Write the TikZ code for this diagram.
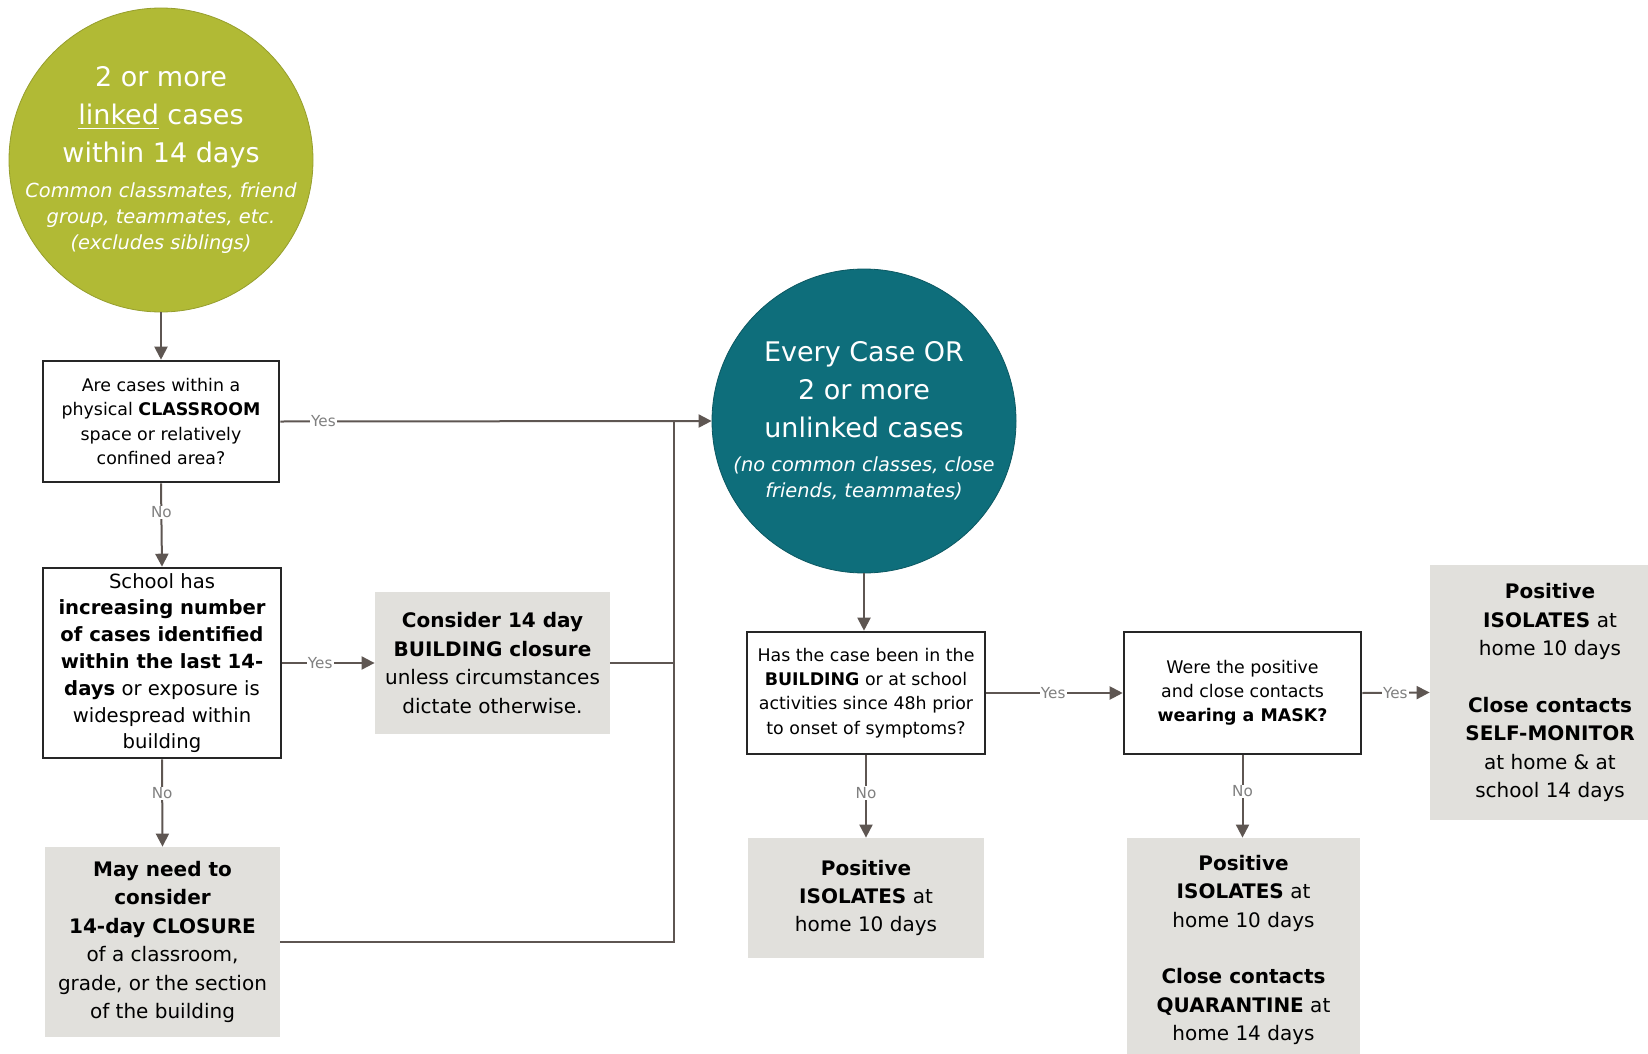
\documentclass[tikz,border=0pt]{standalone}
\usepackage{fontspec}
\setmainfont{DejaVu Sans}
\usepackage{tikz}
\usetikzlibrary{arrows.meta,positioning,calc}
\definecolor{linkedgreen}{HTML}{B1BA35}
\definecolor{unlinkedteal}{HTML}{0E6E7B}
\definecolor{actiongray}{HTML}{E1E0DC}
\definecolor{flowline}{HTML}{5E5652}
\newcommand{\casenote}{\itshape\fontsize{9.7}{13}\selectfont}
\tikzset{% 
  case circle/.style={%
    circle,
    text=white,
    align=center,
    inner sep=-12pt,
    minimum size=152pt,
    line width=0.4pt,
    font=\fontsize{13.5}{19}\selectfont
  }
}
\tikzset{% 
  question box/.style={%
    draw=black!85,
    line width=1.3pt,
    fill=white,
    align=center,
    inner sep=1pt,
    font=\fontsize{8.7}{12.1}\selectfont
  }
}
\tikzset{% 
  action box/.style={%
    fill=actiongray,
    align=center,
    inner sep=1pt,
    font=\fontsize{10}{14.2}\selectfont
  }
}
\tikzset{% 
  flow arrow/.style={%
    draw=flowline,
    line width=1pt,
    -{Triangle[length=6.5pt,width=6.5pt]}
  }
}
\tikzset{% 
  flow line/.style={%
    draw=flowline,
    line width=1pt
  }
}
\tikzset{% 
  flow label/.style={%
    fill=white,
    text=black!50,
    inner sep=0.6pt,
    font=\fontsize{7.6}{8}\selectfont
  }
}

\begin{document}
\begin{tikzpicture}[x=0.5pt,y=-0.5pt]
  \useasboundingbox (0,0) rectangle (1648,1054);
  \node [case circle, fill=linkedgreen, draw=linkedgreen!85!black] (linked) at (161,160)
    {2 or more\\ \underline{linked} cases\\ within 14 days\\[-1.8pt]
     \casenote Common classmates, friend\\[-6pt] \casenote group, teammates, etc.\\[-6pt] \casenote (excludes siblings)};
  \node [case circle, fill=unlinkedteal, draw=unlinkedteal!80!black] (unlinked) at (864,421)
    {Every Case OR\\ 2 or more\\ unlinked cases\\[-2.2pt]
     \casenote (no common classes, close\\[-6pt] \casenote friends, teammates)};
  \node [question box, minimum width=118pt, minimum height=60.5pt] (classroom) at (161,421.5)
    {Are cases within a\\ physical \textbf{CLASSROOM}\\ space or relatively\\ confined area?};
  \node [question box, minimum width=119pt, minimum height=95pt, font=\fontsize{9.8}{13.4}\selectfont] (increasing) at (162,663)
    {School has\\ \textbf{increasing number}\\ \textbf{of cases identified}\\ \textbf{within the last 14-}\\ \textbf{days} or exposure is\\ widespread within\\ building};
  \node [action box, minimum width=117.5pt, minimum height=71pt] (consider) at (492.5,663)
    {\textbf{Consider 14 day}\\ \textbf{BUILDING closure}\\ unless circumstances\\ dictate otherwise.};
  \node [action box, minimum width=117.5pt, minimum height=95pt] (mayneed) at (162.5,942)
    {\textbf{May need to}\\ \textbf{consider}\\ \textbf{14-day CLOSURE}\\ of a classroom,\\ grade, or the section\\ of the building};
  \node [question box, minimum width=119pt, minimum height=61pt] (building) at (866,693)
    {Has the case been in the\\ \textbf{BUILDING} or at school\\ activities since 48h prior\\ to onset of symptoms?};
  \node [question box, minimum width=118.5pt, minimum height=61pt] (mask) at (1242.5,693)
    {Were the positive\\ and close contacts\\ \textbf{wearing a MASK?}};
  \node [action box, minimum width=118pt, minimum height=60pt] (isolates) at (866,898)
    {\textbf{Positive}\\ \textbf{ISOLATES} at\\ home 10 days};
  \node [action box, minimum width=116.5pt, minimum height=112pt] (quarantine) at (1243.5,950)
    {\textbf{Positive}\\ \textbf{ISOLATES} at\\ home 10 days\\[14.2pt] \textbf{Close contacts}\\ \textbf{QUARANTINE} at\\ home 14 days};
  \node [action box, minimum width=120pt, minimum height=127.5pt] (selfmonitor) at (1550,692.5)
    {\textbf{Positive}\\ \textbf{ISOLATES} at\\ home 10 days\\[14.2pt] \textbf{Close contacts}\\ \textbf{SELF-MONITOR}\\ at home \& at\\ school 14 days};
  \coordinate (merge) at (674,421);
  % left branch
  \draw [flow arrow] (linked.south) -- (classroom.north);
  \draw [flow arrow] (classroom.east) -- node [flow label, pos=0.1] {Yes} (unlinked.west);
  \draw [flow arrow] (classroom.south) -- node [flow label, pos=0.35] {No} (increasing.north);
  \draw [flow arrow] (increasing.east) -- node [flow label, pos=0.41] {Yes} (consider.west);
  \draw [flow arrow] (increasing.south) -- node [flow label, pos=0.39] {No} (mayneed.north);
  \draw [flow line] (mayneed.east) -| (merge);
  \draw [flow line] (consider.east) -- (consider.east -| merge);
  % right branch
  \draw [flow arrow] (unlinked.south) -- (unlinked.south |- building.north);
  \draw [flow arrow] (building.east) -- node [flow label, pos=0.49] {Yes} (mask.west);
  \draw [flow arrow] (building.south) -- node [flow label, pos=0.46] {No} (isolates.north);
  \draw [flow arrow] (mask.east) -- node [flow label, pos=0.49] {Yes} (selfmonitor.west);
  \draw [flow arrow] (mask.south) -- node [flow label, pos=0.44] {No} (mask.south |- quarantine.north);
\end{tikzpicture}
\end{document}
